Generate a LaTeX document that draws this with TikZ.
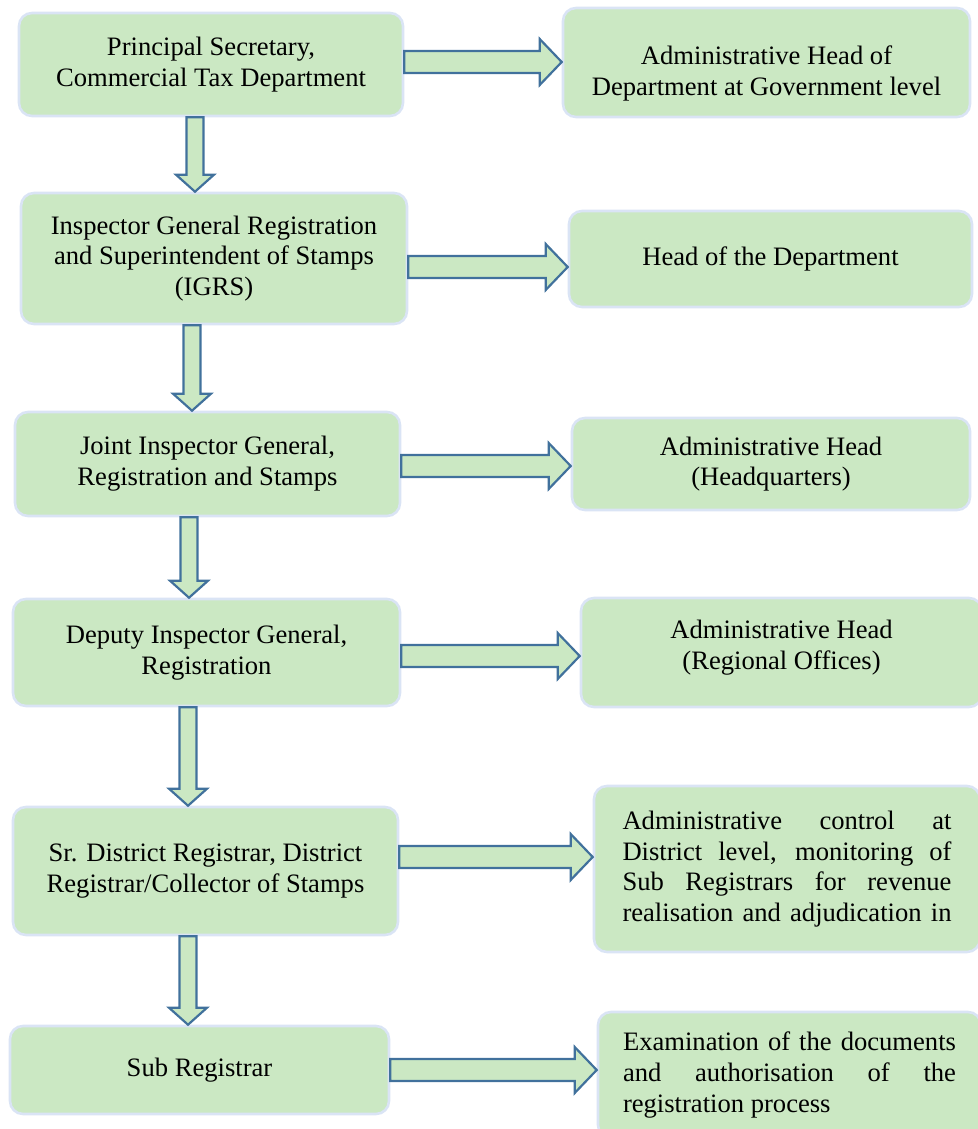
\documentclass[tikz,border=0pt]{standalone}
\usepackage{fontspec}
\setmainfont{Liberation Serif}
\usetikzlibrary{calc}
\definecolor{boxfill}{RGB}{203,232,195}
\definecolor{boxline}{RGB}{218,228,245}
\definecolor{arrowline}{RGB}{65,113,156}
\tikzset{
  box/.style={draw=boxline, fill=boxfill, line width=1.3pt, rounded corners=6.5pt, align=center, inner sep=0pt},
  longtext/.style={text width=#1, align=justify,
    execute at begin node={\hyphenpenalty=10000\exhyphenpenalty=10000\tolerance=10000}},
  blockarrow/.style={draw=arrowline, fill=boxfill, line width=1.1pt}
}
% block arrow from box #1 to box #2, shaft centred at height #3
\newcommand{\rolearrow}[3]{%
  \draw[blockarrow] ($(#1.east |- 0,#3)+(0,-11)$) -- ($(#2.west |- 0,#3)+(-22,-11)$) -- ++(0,-12)
    -- (#2.west |- 0,#3) -- ++(-22,23) -- ++(0,-12) -- ($(#1.east |- 0,#3)+(0,11)$) -- cycle;}
% block arrow from box #1 down to box #2, shaft centred at #3
\newcommand{\levelarrow}[3]{%
  \draw[blockarrow] ($(#1.south -| #3,0)+(-8.5,0)$) -- ($(#2.north -| #3,0)+(-8.5,-17)$) -- ++(-10.5,0)
    -- (#2.north -| #3,0) -- ++(19,-17) -- ++(-10.5,0) -- ($(#1.south -| #3,0)+(8.5,0)$) -- cycle;}

\begin{document}
\begin{tikzpicture}[x=0.5pt, y=-0.5pt, font=\fontsize{13.3pt}{15.4pt}\selectfont]
\useasboundingbox (0,0) rectangle (978,1129);
% left column
\node[box, minimum width=192pt, minimum height=51.5pt] (l1) at (211,64.5) {Principal Secretary,\\Commercial Tax Department};
\node[box, minimum width=193pt, minimum height=65.5pt] (l2) at (214,258.5) {Inspector General Registration\\and Superintendent of Stamps\\(IGRS)};
\node[box, minimum width=192.5pt, minimum height=52pt] (l3) at (207.5,464) {Joint Inspector General,\\Registration and Stamps};
\node[box, minimum width=193.5pt, minimum height=53.5pt] (l4) at (206.5,652.5) {Deputy Inspector General,\\Registration};
\node[box, minimum width=192.5pt, minimum height=64pt] (l5) at (205.5,871) {Sr. District Registrar, District\\Registrar/Collector of Stamps};
\node[box, minimum width=189.5pt, minimum height=44pt] (l6) at (199.5,1070) {Sub Registrar};
% right column
\node[box, minimum width=203.5pt, minimum height=54.5pt] (r1) at (766.5,62.5) {\rule{0pt}{20pt}Administrative Head of\\Department at Government level};
\node[box, minimum width=201.5pt, minimum height=48pt] (r2) at (770.5,259) {Head of the Department};
\node[box, minimum width=199pt, minimum height=46pt] (r3) at (771,464) {Administrative Head\\(Headquarters)};
\node[box, minimum width=200.5pt, minimum height=54.5pt] (r4) at (781.5,652.5) {Administrative Head\\(Regional Offices)\rule[-8pt]{0pt}{8pt}};
\node[box, longtext=164.5pt, minimum width=193pt, minimum height=83pt] (r5) at (787,869)
  {Administrative control at\linebreak District level, monitoring of\linebreak Sub Registrars for revenue\linebreak
   \makebox[164.5pt][s]{realisation and adjudication in}};
\node[box, longtext=166.5pt, minimum width=191.5pt, minimum height=63pt] (r6) at (789.5,1075)
  {Examination of the documents\linebreak and authorisation of the\linebreak registration process};
% arrows
\foreach \a/\b/\y in {l1/r1/62, l2/r2/267, l3/r3/466, l4/r4/656, l5/r5/857, l6/r6/1070}
  {\rolearrow{\a}{\b}{\y}}
\foreach \a/\b/\x in {l1/l2/195, l2/l3/192, l3/l4/189, l4/l5/188, l5/l6/188}
  {\levelarrow{\a}{\b}{\x}}
\end{tikzpicture}
\end{document}
